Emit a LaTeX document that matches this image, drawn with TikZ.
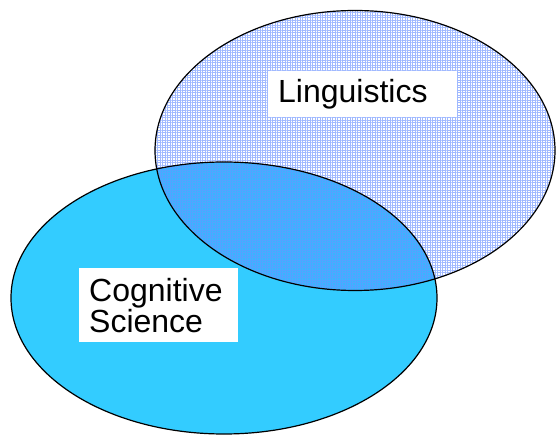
\documentclass[tikz,border=0pt]{standalone}
\usepackage{fontspec}
\setmainfont{Liberation Sans}
\usetikzlibrary{patterns.meta}
\definecolor{cogcyan}{RGB}{51,204,255}
\definecolor{gridblue}{RGB}{160,185,255}
\definecolor{overlapblue}{RGB}{55,182,255}
\definecolor{overlapgrid}{RGB}{85,162,255}
\begin{document}
\begin{tikzpicture}[x=1pt,y=-1pt,
  labelbox/.style={fill=white, inner xsep=10pt, inner ysep=0pt, align=left,
    font=\fontsize{32}{31}\selectfont, anchor=north west},
  outline/.style={draw=black, line width=1.2pt},
  gridfill/.style={pattern={Hatch[distance=2.5pt, angle=0, line width=0.9pt]}}]
\useasboundingbox (0,0) rectangle (556,435);
% Cognitive Science ellipse fill
\fill[cogcyan] (224,298) ellipse [x radius=213, y radius=136];
% Linguistics ellipse grid pattern
\fill[gridfill, pattern color=gridblue]
  (355,150.5) ellipse [x radius=200, y radius=140];
% overlap
\begin{scope}
  \clip (224,298) ellipse [x radius=213, y radius=136];
  \fill[overlapblue] (355,150.5) ellipse [x radius=200, y radius=140];
  \fill[gridfill, pattern color=overlapgrid]
    (355,150.5) ellipse [x radius=200, y radius=140];
\end{scope}
% outlines
\draw[outline] (224,298) ellipse [x radius=213, y radius=136];
\draw[outline] (355,150.5) ellipse [x radius=200, y radius=140];
% labels
\node[labelbox, text width=169pt, minimum height=46pt] (ling) at (268,71) {Linguistics};
\node[labelbox, text width=139pt, minimum height=74pt] (cog) at (79,268) {Cognitive\\Science};
\end{tikzpicture}
\end{document}
